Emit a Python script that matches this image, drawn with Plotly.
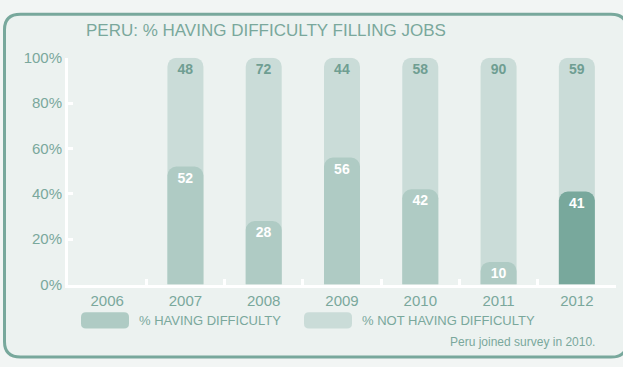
import plotly.graph_objects as go

years = ["2006", "2007", "2008", "2009", "2010", "2011", "2012"]
having = [None, 52, 28, 56, 42, 10, 41]
not_having = [None, 48, 72, 44, 58, 90, 59]

W, H = 623, 367
DARK = "#78a89c"
MID = "#afcbc4"
LIGHT = "#cadcd8"
TEXT = "#7aa89c"
FONT = "Liberation Sans, Arial, sans-serif"


def px(x):
    return x / W


def py(y):
    return 1 - y / H


def round_rect(x0, y0, x1, y1, r):
    # rounded rectangle path in pixel space -> paper coords
    pts = (f"M {px(x0 + r)},{py(y0)} L {px(x1 - r)},{py(y0)} "
           f"Q {px(x1)},{py(y0)} {px(x1)},{py(y0 + r)} L {px(x1)},{py(y1 - r)} "
           f"Q {px(x1)},{py(y1)} {px(x1 - r)},{py(y1)} L {px(x0 + r)},{py(y1)} "
           f"Q {px(x0)},{py(y1)} {px(x0)},{py(y1 - r)} L {px(x0)},{py(y0 + r)} "
           f"Q {px(x0)},{py(y0)} {px(x0 + r)},{py(y0)} Z")
    return pts


totals = [None if h is None else h + n for h, n in zip(having, not_having)]
having_colors = [DARK if y == "2012" else MID for y in years]

fig = go.Figure()
# light bar runs the full height behind; the darker one sits on an overlaid
# x axis so both get their own rounded top
fig.add_trace(go.Bar(
    x=years, y=totals, marker=dict(color=LIGHT, line_width=0, cornerradius=9),
    text=[None if v is None else str(v) for v in not_having],
    textposition="inside", insidetextanchor="end",
    textfont=dict(color="#6f9e92", size=14, family=FONT, weight="bold"),
    width=0.46, hoverinfo="skip", showlegend=False,
))
fig.add_trace(go.Bar(
    x=years, y=having, marker=dict(color=having_colors, line_width=0, cornerradius=9),
    text=[None if v is None else str(v) for v in having],
    textposition="inside", insidetextanchor="end",
    textfont=dict(color="white", size=14, family=FONT, weight="bold"),
    width=0.46, hoverinfo="skip", showlegend=False, xaxis="x2",
))

shapes = [
    dict(type="path", xref="paper", yref="paper",
         path=round_rect(4.5, 5.5, 627, 365, 16),
         line=dict(color=DARK, width=3), fillcolor="#ecf2f0", layer="below"),
    dict(type="path", xref="paper", yref="paper",
         path=round_rect(81, 318, 129, 335, 5),
         line_width=0, fillcolor=MID),
    dict(type="path", xref="paper", yref="paper",
         path=round_rect(304, 318, 352, 335, 5),
         line_width=0, fillcolor=LIGHT),
]

annotations = [
    dict(text="PERU: % HAVING DIFFICULTY FILLING JOBS", x=px(266), y=py(23),
         xref="paper", yref="paper", showarrow=False, xanchor="center", yanchor="middle",
         font=dict(size=17, color=TEXT, family=FONT)),
    dict(text="% HAVING DIFFICULTY", x=px(137), y=py(327),
         xref="paper", yref="paper", showarrow=False, xanchor="left", yanchor="middle",
         font=dict(size=13, color=TEXT, family=FONT)),
    dict(text="% NOT HAVING DIFFICULTY", x=px(360), y=py(327),
         xref="paper", yref="paper", showarrow=False, xanchor="left", yanchor="middle",
         font=dict(size=13, color=TEXT, family=FONT)),
    dict(text="Peru joined survey in 2010.", x=px(597), y=py(349),
         xref="paper", yref="paper", showarrow=False, xanchor="right", yanchor="middle",
         font=dict(size=12, color=TEXT, family=FONT)),
]

fig.update_layout(
    width=W, height=H,
    margin=dict(l=0, r=0, t=0, b=0),
    paper_bgcolor="#f2f5f4", plot_bgcolor="rgba(0,0,0,0)",
    barmode="overlay",
    shapes=shapes, annotations=annotations,
    font=dict(family=FONT, color=TEXT),
    uniformtext=dict(mode="show", minsize=10),
    xaxis2=dict(overlaying="x", domain=[px(68), px(616)], range=[-0.5, 6.5],
                type="category", categoryarray=years, visible=False, fixedrange=True),
)
fig.update_xaxes(
    selector=dict(anchor="y"),
    domain=[px(68), px(616)], range=[-0.5, 6.5], type="category",
    showline=True, linecolor="white", linewidth=3,
    ticks="inside", tickson="boundaries", ticklen=6, tickwidth=3, tickcolor="white",
    showgrid=False, tickfont=dict(size=15, color=TEXT), fixedrange=True,
)
fig.update_layout(xaxis=dict(
    domain=[px(68), px(616)], range=[-0.5, 6.5], type="category",
    showline=True, linecolor="white", linewidth=3,
    ticks="inside", tickson="boundaries", ticklen=6, tickwidth=3, tickcolor="white",
    showgrid=False, tickfont=dict(size=15, color=TEXT), fixedrange=True,
))
fig.update_yaxes(
    domain=[py(289), py(51)], range=[0, 100],
    tickvals=[0, 20, 40, 60, 80, 100], ticktext=["0%", "20%", "40%", "60%", "80%", "100%"],
    showline=True, linecolor="white", linewidth=3,
    ticks="inside", ticklen=5, tickwidth=3, tickcolor="white",
    showgrid=False, zeroline=False, tickfont=dict(size=15, color=TEXT), fixedrange=True,
)

fig.write_html(
    "out.html",
    config={"displayModeBar": False},
    post_script="document.body.style.margin='0';document.body.style.overflow='hidden';",
)
